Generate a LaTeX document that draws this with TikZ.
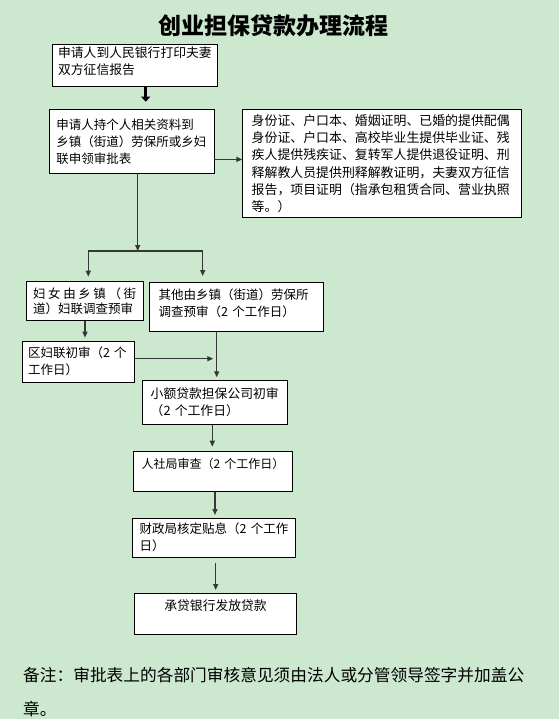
\documentclass[tikz,border=0pt]{standalone}
\usepackage{fontspec}
\newfontfamily\cjk{Noto Sans CJK SC}
\usetikzlibrary{arrows.meta, positioning, calc}
\definecolor{paper}{RGB}{204, 232, 207}
\definecolor{wire}{RGB}{55, 55, 55}

\begin{document}
\begin{tikzpicture}[
    x=1pt, y=-1pt,
    box/.style={rectangle, draw=black, line width=0.8pt, fill=white, anchor=north west, align=left, inner ysep=2pt, font=\cjk\fontsize{12.5}{17}\selectfont},
    arrow/.style={-{Triangle[length=6pt, width=5pt]}, line width=1.3pt, wire},
    bigarrow/.style={-{Triangle[length=5pt, width=9pt]}, line width=2.6pt, black},
    link/.style={line width=1.3pt, wire}
]
    \useasboundingbox (0,0) rectangle (559,719);
    \fill[paper] (0,0) rectangle (559,719);

    % Title
    \node[font=\cjk\bfseries\fontsize{23}{23}\selectfont] (title) at (273,26) {创业担保贷款办理流程};

    % Nodes
    \node[box, inner xsep=6pt, text width=153.6pt, minimum height=41.7pt, font=\cjk\fontsize{12.8}{17}\selectfont] (credit) at (51.7,44.3) {申请人到人民银行打印夫妻\\双方征信报告\\[-8pt]\mbox{}};
    \node[box, inner xsep=7pt, text width=151.3pt, minimum height=63.4pt] (apply) at (49,109.3) {申请人持个人相关资料到\\乡镇（街道）劳保所或乡妇\\联申领审批表};
    \node[box, inner xsep=9pt, text width=260.4pt, minimum height=108pt, font=\cjk\fontsize{12.9}{17.2}\selectfont] (docs) at (242.3,109.3) {身份证、户口本、婚姻证明、已婚的提供配偶\\身份证、户口本、高校毕业生提供毕业证、残\\疾人提供残疾证、复转军人提供退役证明、刑\\释解教人员提供刑释解教证明，夫妻双方征信\\报告，项目证明（指承包租赁合同、营业执照\\等。）};
    \node[box, inner xsep=7pt, text width=103pt, minimum height=39pt, font=\cjk\fontsize{12.5}{15}\selectfont] (women) at (25.7,281) {妇\hfill 女\hfill 由\hfill 乡\hfill 镇\hfill （\hfill 街\\道）妇联调查预审};
    \node[box, inner xsep=9pt, text width=155.4pt, minimum height=49.3pt] (others) at (149.3,281.7) {其他由乡镇（街道）劳保所\\调查预审（2~个工作日）\\[-8pt]\mbox{}};
    \node[box, inner xsep=6pt, text width=100.6pt, minimum height=41pt] (district) at (21.7,340.7) {区妇联初审（2~个\\工作日）};
    \node[box, inner xsep=8pt, text width=129pt, minimum height=44.3pt, font=\cjk\fontsize{12.8}{17}\selectfont] (guarantee) at (142.3,380) {小额贷款担保公司初审\\（2~个工作日）};
    \node[box, inner xsep=8pt, text width=143pt, minimum height=40pt, font=\cjk\fontsize{12}{17}\selectfont] (hrss) at (133.3,451) {人社局审查（2~个工作日）\\\mbox{}};
    \node[box, inner xsep=7pt, text width=148.7pt, minimum height=39pt] (finance) at (132.3,517.7) {财政局核定贴息（2~个工作\\日）};
    \node[box, align=center, inner xsep=8pt, text width=145.7pt, minimum height=40.7pt, font=\cjk\fontsize{12.8}{17}\selectfont] (bank) at (134.3,593.3) {承贷银行发放贷款\\\mbox{}};

    % Note
    \node[anchor=west, align=left, inner sep=0pt, font=\cjk\fontsize{16.7}{34}\selectfont] (note) at (23,692.5) {备注：审批表上的各部门审核意见须由法人或分管领导签字并加盖公\\章。};

    % Junctions
    \coordinate (down) at (145.7,101.7);
    \coordinate (side) at ($(apply.east)+(-1.3,18)$);
    \coordinate (split) at (137.7,251);
    \coordinate (splitL) at (88.3,251);
    \coordinate (splitR) at (202.7,251);
    \coordinate (merge) at (216.7,358.7);

    % Arrows
    \draw[bigarrow] (credit.south -| down) -- (down);
    \draw[arrow] (side) -- (side -| docs.west);
    \draw[arrow] (apply.south -| split) -- (split);
    \draw[link] (splitL) -- (splitR);
    \draw[arrow, shorten >=4.3pt] (splitL) -- (splitL |- women.north);
    \draw[arrow, shorten >=5.7pt] (splitR) -- (splitR |- others.north);
    \draw[arrow, shorten >=3pt] (women.south -| 85,0) -- (district.north -| 85,0);
    \draw[arrow, shorten >=3.4pt] (district.east |- merge) -- (merge);
    \draw[arrow, shorten >=2.7pt] (others.south -| merge) -- (guarantee.north -| merge);
    \draw[arrow, shorten >=4.3pt] (guarantee.south -| 212.3,0) -- (hrss.north -| 212.3,0);
    \draw[arrow, shorten >=2.7pt] (hrss.south -| 215,0) -- (finance.north -| 215,0);
    \draw[arrow, shorten <=5pt, shorten >=3.3pt] (finance.south -| 215.7,0) -- (bank.north -| 215.7,0);
\end{tikzpicture}
\end{document}
